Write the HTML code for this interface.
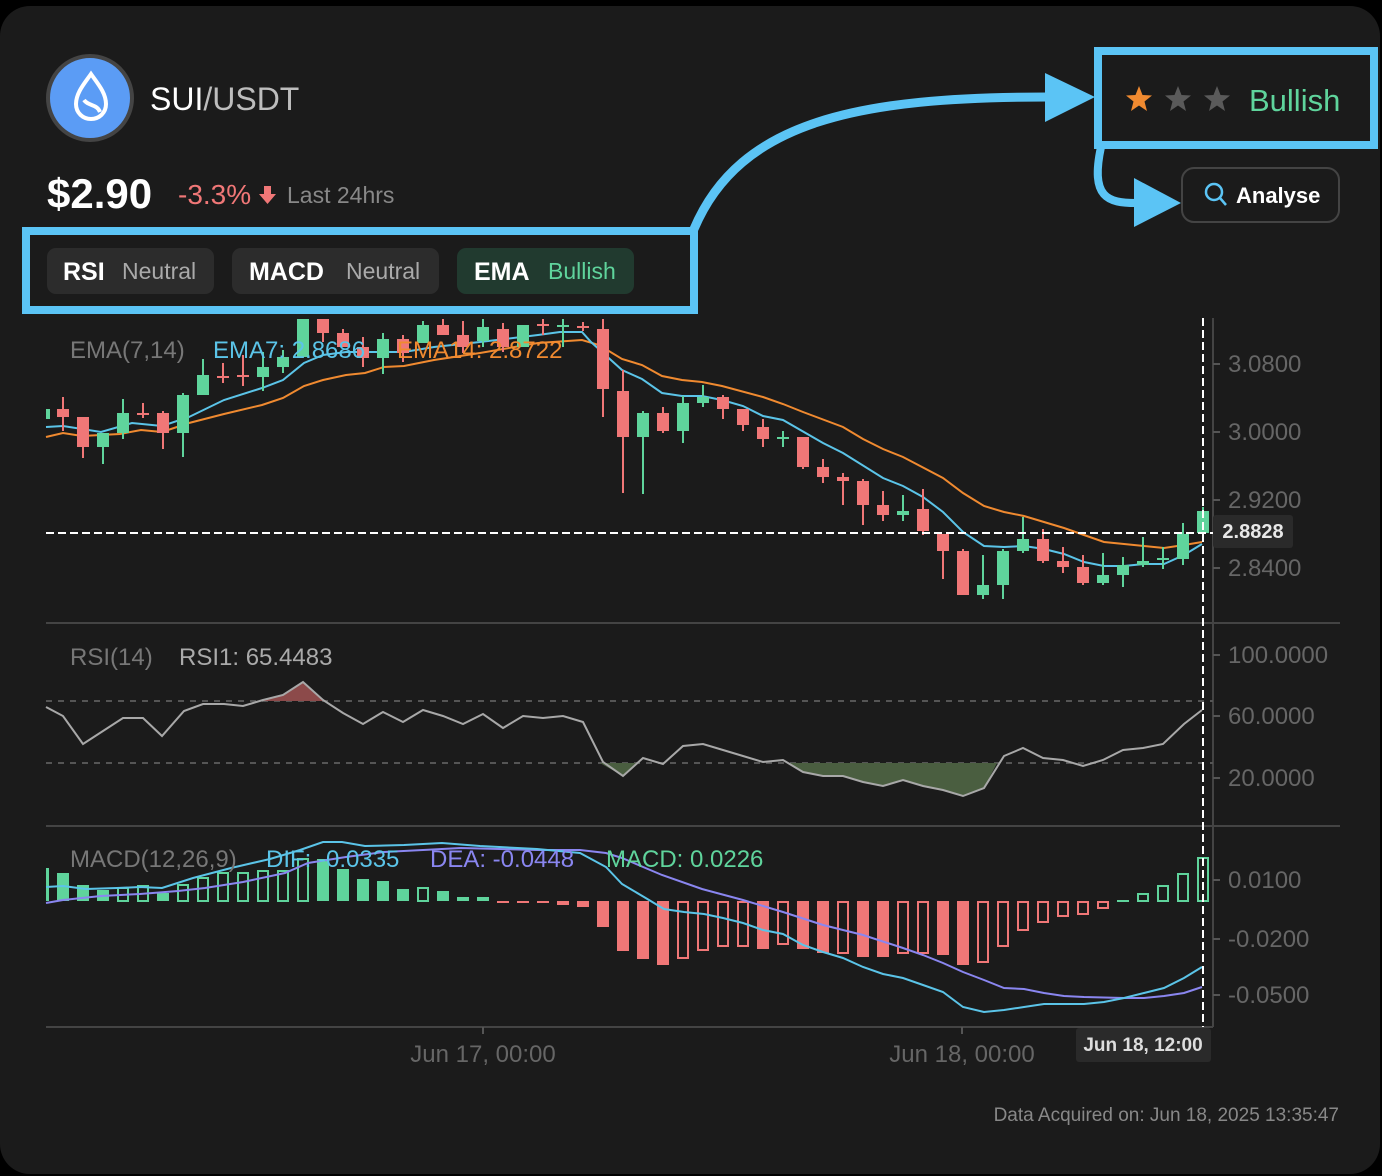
<!DOCTYPE html>
<html><head><meta charset="utf-8"><style>
html,body{margin:0;padding:0;background:#000;width:1382px;height:1176px;overflow:hidden}
svg{display:block}
text{font-family:"Liberation Sans",sans-serif}
</style></head><body>
<svg width="1382" height="1176" viewBox="0 0 1382 1176" xmlns="http://www.w3.org/2000/svg">
<rect x="0" y="6" width="1380" height="1168" rx="30" fill="#1b1b1b"/>

<!-- header -->
<circle cx="90" cy="98" r="42" fill="#5b9cf5" stroke="#444" stroke-width="4"/>
<path d="M91,74 C84,84 76,93 76,104 C76,113 83,119 91,119 C99,119 106,113 106,104 C106,93 98,84 91,74 Z" fill="none" stroke="#fff" stroke-width="4"/>
<path d="M84,100 C88,106 97,104 100,112" fill="none" stroke="#fff" stroke-width="4"/>
<text x="150" y="110" font-size="32" fill="#fff">SUI<tspan fill="#bdbdbd">/USDT</tspan></text>
<text x="47" y="208" font-size="42" font-weight="bold" fill="#fff">$2.90</text>
<text x="178" y="204" font-size="28" fill="#f07777">-3.3%</text>
<path d="M264,186 h7 v8 h5 l-8.5,10 l-8.5,-10 h5 z" fill="#f07777"/>
<text x="287" y="203" font-size="23" fill="#888">Last 24hrs</text>

<rect x="47" y="248" width="167" height="46" rx="9" fill="#2c2c2c"/>
<text x="63" y="280" font-size="25" font-weight="bold" fill="#fff">RSI</text>
<text x="122" y="279" font-size="23" fill="#aaa">Neutral</text>
<rect x="232" y="248" width="207" height="46" rx="9" fill="#2c2c2c"/>
<text x="249" y="280" font-size="25" font-weight="bold" fill="#fff">MACD</text>
<text x="346" y="279" font-size="23" fill="#aaa">Neutral</text>
<rect x="457" y="248" width="177" height="46" rx="9" fill="#213a2f"/>
<text x="474" y="280" font-size="25" font-weight="bold" fill="#fff">EMA</text>
<text x="548" y="279" font-size="23" fill="#5fd49c">Bullish</text>

<!-- annotation boxes & arrows -->
<rect x="26" y="231" width="668" height="79" fill="none" stroke="#5bc4f5" stroke-width="8"/>
<path d="M694,229 C740,120 860,97 1048,97" fill="none" stroke="#5bc4f5" stroke-width="9"/>
<polygon points="1045,73 1045,122 1095,97" fill="#5bc4f5"/>
<rect x="1098" y="51" width="276" height="94" fill="none" stroke="#5bc4f5" stroke-width="8"/>
<path d="M1101,147 C1090,198 1108,203 1136,203" fill="none" stroke="#5bc4f5" stroke-width="8"/>
<polygon points="1134,178 1134,227 1181,203" fill="#5bc4f5"/>
<polygon points="1139,86 1142.5,95 1152,95.5 1144.5,101.5 1147,111 1139,105.5 1131,111 1133.5,101.5 1126,95.5 1135.5,95" fill="#f08a30"/>
<polygon points="1178,86 1181.5,95 1191,95.5 1183.5,101.5 1186,111 1178,105.5 1170,111 1172.5,101.5 1165,95.5 1174.5,95" fill="#5a5a5a"/>
<polygon points="1217,86 1220.5,95 1230,95.5 1222.5,101.5 1225,111 1217,105.5 1209,111 1211.5,101.5 1204,95.5 1213.5,95" fill="#5a5a5a"/>
<text x="1249" y="111" font-size="31" fill="#5fd49c">Bullish</text>
<rect x="1182" y="168" width="157" height="54" rx="12" fill="#1b1b1b" stroke="#444" stroke-width="2"/>
<circle cx="1214" cy="192" r="8" fill="none" stroke="#5bc4f5" stroke-width="2.5"/>
<line x1="1220" y1="198" x2="1226" y2="205" stroke="#5bc4f5" stroke-width="2.5"/>
<text x="1236" y="203" font-size="22" font-weight="bold" fill="#fff">Analyse</text>

<!-- chart frame -->
<line x1="1213" y1="318" x2="1213" y2="1027" stroke="#444" stroke-width="2"/>
<line x1="46" y1="623" x2="1340" y2="623" stroke="#444" stroke-width="2"/>
<line x1="46" y1="826" x2="1340" y2="826" stroke="#444" stroke-width="2"/>
<line x1="46" y1="1027" x2="1213" y2="1027" stroke="#444" stroke-width="2"/>
<g stroke="#555" stroke-width="2">
<line x1="1213" y1="364" x2="1220" y2="364"/><line x1="1213" y1="432" x2="1220" y2="432"/><line x1="1213" y1="500" x2="1220" y2="500"/><line x1="1213" y1="568" x2="1220" y2="568"/>
<line x1="1213" y1="655" x2="1220" y2="655"/><line x1="1213" y1="716" x2="1220" y2="716"/><line x1="1213" y1="778" x2="1220" y2="778"/>
<line x1="1213" y1="880" x2="1220" y2="880"/><line x1="1213" y1="939" x2="1220" y2="939"/><line x1="1213" y1="995" x2="1220" y2="995"/>
<line x1="483" y1="1027" x2="483" y2="1034"/><line x1="962" y1="1027" x2="962" y2="1034"/>
</g>
<g font-size="24" fill="#666">
<text x="1228" y="372">3.0800</text><text x="1228" y="440">3.0000</text><text x="1228" y="508">2.9200</text><text x="1228" y="576">2.8400</text>
<text x="1228" y="663">100.0000</text><text x="1228" y="724">60.0000</text><text x="1228" y="786">20.0000</text>
<text x="1228" y="888">0.0100</text><text x="1228" y="947">-0.0200</text><text x="1228" y="1003">-0.0500</text>
<text x="483" y="1062" text-anchor="middle">Jun 17, 00:00</text><text x="962" y="1062" text-anchor="middle">Jun 18, 00:00</text>
</g>

<!-- EMA lines -->
<polyline fill="none" stroke="#f08a30" stroke-width="2" points="46,437 63,433 82,436 120,434 141,430 162,432 189,423 224,414 262,405 283,398 304,386 323,380 346,375 365,373 384,367 404,366 434,360 480,353 538,343 582,340 599,345 622,359 642,365 662,376 682,380 702,382 722,386 763,397 783,404 803,412 843,427 863,439 883,449 903,457 943,478 963,493 984,506 1004,512 1024,516 1044,522 1064,528 1084,535 1104,542 1124,544 1144,546 1164,548 1184,545 1202,542"/>
<polyline fill="none" stroke="#5bc4e8" stroke-width="2" points="46,427 63,426 101,432 132,423 162,426 189,417 224,400 262,388 283,380 304,363 323,355 346,352 377,352 404,352 434,347 480,342 538,335 560,332 582,332 591,342 622,370 642,379 662,393 682,396 702,396 722,400 743,406 763,416 783,420 823,443 843,453 883,478 903,486 923,497 943,512 963,532 984,546 1004,547 1024,546 1044,549 1064,554 1084,562 1104,566 1124,566 1144,564 1164,564 1184,555 1202,544"/>

<!-- candles -->
<g stroke-width="2">
<g fill="#5fd49c" stroke="#5fd49c">
<rect x="46" y="409" width="4" height="10" stroke="none"/>
<line x1="103" y1="433" x2="103" y2="464"/><rect x="97" y="433" width="12" height="14" stroke="none"/>
<line x1="123" y1="399" x2="123" y2="439"/><rect x="117" y="413" width="12" height="20" stroke="none"/>
<line x1="183" y1="393" x2="183" y2="457"/><rect x="177" y="395" width="12" height="38" stroke="none"/>
<line x1="203" y1="359" x2="203" y2="395"/><rect x="197" y="375" width="12" height="20" stroke="none"/>
<line x1="263" y1="352" x2="263" y2="391"/><rect x="257" y="367" width="12" height="10" stroke="none"/>
<line x1="283" y1="350" x2="283" y2="373"/><rect x="277" y="357" width="12" height="10" stroke="none"/>
<rect x="297" y="319" width="12" height="38" stroke="none"/>
<line x1="383" y1="333" x2="383" y2="374"/><rect x="377" y="339" width="12" height="19" stroke="none"/>
<line x1="423" y1="321" x2="423" y2="343"/><rect x="417" y="325" width="12" height="18" stroke="none"/>
<line x1="483" y1="319" x2="483" y2="347"/><rect x="477" y="327" width="12" height="14" stroke="none"/>
<rect x="517" y="325" width="12" height="22" stroke="none"/>
<line x1="563" y1="319" x2="563" y2="347"/><rect x="557" y="325" width="12" height="2" stroke="none"/>
<line x1="643" y1="411" x2="643" y2="494"/><rect x="637" y="413" width="12" height="24" stroke="none"/>
<line x1="683" y1="396" x2="683" y2="443"/><rect x="677" y="403" width="12" height="28" stroke="none"/>
<line x1="703" y1="385" x2="703" y2="407"/><rect x="697" y="397" width="12" height="6" stroke="none"/>
<line x1="783" y1="431" x2="783" y2="447"/><rect x="777" y="437" width="12" height="2" stroke="none"/>
<line x1="903" y1="495" x2="903" y2="521"/><rect x="897" y="511" width="12" height="4" stroke="none"/>
<line x1="983" y1="555" x2="983" y2="599"/><rect x="977" y="585" width="12" height="10" stroke="none"/>
<line x1="1003" y1="549" x2="1003" y2="599"/><rect x="997" y="551" width="12" height="34" stroke="none"/>
<line x1="1023" y1="517" x2="1023" y2="553"/><rect x="1017" y="539" width="12" height="12" stroke="none"/>
<line x1="1103" y1="553" x2="1103" y2="585"/><rect x="1097" y="575" width="12" height="8" stroke="none"/>
<line x1="1123" y1="557" x2="1123" y2="587"/><rect x="1117" y="565" width="12" height="10" stroke="none"/>
<line x1="1143" y1="537" x2="1143" y2="567"/><rect x="1137" y="561" width="12" height="4" stroke="none"/>
<line x1="1163" y1="547" x2="1163" y2="569"/><rect x="1157" y="558" width="12" height="2" stroke="none"/>
<line x1="1183" y1="523" x2="1183" y2="565"/><rect x="1177" y="534" width="12" height="25" stroke="none"/>
<line x1="1203" y1="507" x2="1203" y2="533"/><rect x="1197" y="511" width="12" height="22" stroke="none"/>
</g>
<g fill="#f07777" stroke="#f07777">
<line x1="63" y1="397" x2="63" y2="431"/><rect x="57" y="409" width="12" height="8" stroke="none"/>
<line x1="83" y1="417" x2="83" y2="458"/><rect x="77" y="417" width="12" height="30" stroke="none"/>
<line x1="143" y1="403" x2="143" y2="418"/><rect x="137" y="413" width="12" height="2" stroke="none"/>
<line x1="163" y1="411" x2="163" y2="449"/><rect x="157" y="413" width="12" height="20" stroke="none"/>
<line x1="223" y1="363" x2="223" y2="383"/><rect x="217" y="376" width="12" height="2" stroke="none"/>
<line x1="243" y1="355" x2="243" y2="386"/><rect x="237" y="375" width="12" height="2" stroke="none"/>
<line x1="323" y1="319" x2="323" y2="342"/><rect x="317" y="319" width="12" height="14" stroke="none"/>
<line x1="343" y1="329" x2="343" y2="347"/><rect x="337" y="333" width="12" height="14" stroke="none"/>
<line x1="363" y1="337" x2="363" y2="367"/><rect x="357" y="347" width="12" height="11" stroke="none"/>
<line x1="403" y1="335" x2="403" y2="362"/><rect x="397" y="339" width="12" height="14" stroke="none"/>
<line x1="443" y1="319" x2="443" y2="335"/><rect x="437" y="325" width="12" height="10" stroke="none"/>
<line x1="463" y1="321" x2="463" y2="353"/><rect x="457" y="335" width="12" height="12" stroke="none"/>
<line x1="503" y1="323" x2="503" y2="352"/><rect x="497" y="329" width="12" height="18" stroke="none"/>
<line x1="543" y1="319" x2="543" y2="335"/><rect x="537" y="324" width="12" height="2" stroke="none"/>
<line x1="583" y1="322" x2="583" y2="331"/><rect x="577" y="326" width="12" height="2" stroke="none"/>
<line x1="603" y1="319" x2="603" y2="417"/><rect x="597" y="329" width="12" height="60" stroke="none"/>
<line x1="623" y1="370" x2="623" y2="493"/><rect x="617" y="391" width="12" height="46" stroke="none"/>
<line x1="663" y1="407" x2="663" y2="433"/><rect x="657" y="413" width="12" height="18" stroke="none"/>
<line x1="723" y1="395" x2="723" y2="419"/><rect x="717" y="397" width="12" height="12" stroke="none"/>
<line x1="743" y1="409" x2="743" y2="431"/><rect x="737" y="409" width="12" height="16" stroke="none"/>
<line x1="763" y1="419" x2="763" y2="447"/><rect x="757" y="427" width="12" height="12" stroke="none"/>
<line x1="803" y1="437" x2="803" y2="469"/><rect x="797" y="437" width="12" height="30" stroke="none"/>
<line x1="823" y1="459" x2="823" y2="483"/><rect x="817" y="467" width="12" height="10" stroke="none"/>
<line x1="843" y1="473" x2="843" y2="505"/><rect x="837" y="477" width="12" height="4" stroke="none"/>
<line x1="863" y1="479" x2="863" y2="525"/><rect x="857" y="481" width="12" height="24" stroke="none"/>
<line x1="883" y1="491" x2="883" y2="521"/><rect x="877" y="505" width="12" height="10" stroke="none"/>
<line x1="923" y1="489" x2="923" y2="535"/><rect x="917" y="509" width="12" height="22" stroke="none"/>
<line x1="943" y1="534" x2="943" y2="579"/><rect x="937" y="534" width="12" height="17" stroke="none"/>
<line x1="963" y1="549" x2="963" y2="595"/><rect x="957" y="551" width="12" height="44" stroke="none"/>
<line x1="1043" y1="529" x2="1043" y2="563"/><rect x="1037" y="539" width="12" height="22" stroke="none"/>
<line x1="1063" y1="547" x2="1063" y2="573"/><rect x="1057" y="561" width="12" height="6" stroke="none"/>
<line x1="1083" y1="555" x2="1083" y2="585"/><rect x="1077" y="567" width="12" height="16" stroke="none"/>
</g>
</g>

<!-- labels over chart -->
<text x="70" y="358" font-size="24" fill="#777">EMA(7,14)</text>
<text x="213" y="358" font-size="24" fill="#5bc4e8">EMA7: 2.8686</text>
<text x="397" y="358" font-size="24" fill="#f08a30">EMA14: 2.8722</text>

<!-- RSI -->
<line x1="46" y1="701" x2="1213" y2="701" stroke="#555" stroke-width="2" stroke-dasharray="6 6"/>
<line x1="46" y1="763" x2="1213" y2="763" stroke="#555" stroke-width="2" stroke-dasharray="6 6"/>
<polygon points="258,701 263,700 283,695 303,682 323,700 324,701" fill="#8c4a4a"/>
<polygon points="600,763 623,776 637,763" fill="#4a5e40"/>
<polygon points="790,763 803,772 823,776 843,776 863,782 883,786 903,780 923,786 943,790 963,796 984,788 997,763" fill="#4a5e40"/>
<polyline fill="none" stroke="#a8a8a8" stroke-width="2" points="46,707 63,716 83,744 103,731 123,718 143,718 162,736 184,711 203,704 224,704 243,706 263,700 283,695 303,682 323,700 343,713 363,724 383,712 403,722 423,710 443,716 463,724 483,714 503,728 523,716 543,718 563,716 583,722 603,762 623,776 643,758 663,764 683,746 703,744 723,750 743,756 763,762 783,760 803,772 823,776 843,776 863,782 883,786 903,780 923,786 943,790 963,796 984,788 1004,756 1023,748 1043,758 1063,760 1083,766 1103,760 1123,750 1143,748 1163,744 1184,724 1202,710"/>
<text x="70" y="665" font-size="24" fill="#777">RSI(14)</text>
<text x="179" y="665" font-size="24" fill="#aaa">RSI1: 65.4483</text>

<!-- MACD histogram -->
<g fill="#5fd49c">
<rect x="46" y="868" width="3" height="33"/>
<rect x="57" y="873" width="12" height="28"/><rect x="77" y="885" width="12" height="16"/><rect x="97" y="890" width="12" height="11"/>
<rect x="157" y="893" width="12" height="8"/><rect x="317" y="859" width="12" height="42"/><rect x="337" y="869" width="12" height="32"/>
<rect x="357" y="879" width="12" height="22"/><rect x="377" y="881" width="12" height="20"/><rect x="397" y="889" width="12" height="12"/>
<rect x="437" y="891" width="12" height="10"/><rect x="457" y="897" width="12" height="4"/><rect x="477" y="897" width="12" height="4"/>
<rect x="1117" y="900" width="12" height="2"/>
</g>
<g fill="none" stroke="#5fd49c" stroke-width="2">
<rect x="118" y="888" width="10" height="13"/><rect x="138" y="886" width="10" height="15"/><rect x="178" y="885" width="10" height="16"/>
<rect x="198" y="878" width="10" height="23"/><rect x="218" y="873" width="10" height="28"/><rect x="238" y="873" width="10" height="28"/>
<rect x="258" y="871" width="10" height="30"/><rect x="278" y="871" width="10" height="30"/><rect x="298" y="859" width="10" height="42"/>
<rect x="418" y="888" width="10" height="13"/>
<rect x="1138" y="894" width="10" height="7"/><rect x="1158" y="886" width="10" height="15"/><rect x="1178" y="874" width="10" height="27"/><rect x="1198" y="858" width="10" height="43"/>
</g>
<g fill="#f07777">
<rect x="497" y="901" width="12" height="2"/><rect x="517" y="901" width="12" height="2"/><rect x="537" y="901" width="12" height="2"/>
<rect x="557" y="901" width="12" height="4"/><rect x="577" y="901" width="12" height="6"/><rect x="597" y="901" width="12" height="26"/>
<rect x="617" y="901" width="12" height="50"/><rect x="637" y="901" width="12" height="58"/><rect x="657" y="901" width="12" height="64"/>
<rect x="757" y="901" width="12" height="48"/><rect x="797" y="901" width="12" height="48"/><rect x="817" y="901" width="12" height="52"/>
<rect x="857" y="901" width="12" height="56"/><rect x="877" y="901" width="12" height="56"/><rect x="937" y="901" width="12" height="54"/>
<rect x="957" y="901" width="12" height="64"/>
</g>
<g fill="none" stroke="#f07777" stroke-width="2">
<rect x="678" y="902" width="10" height="56"/><rect x="698" y="902" width="10" height="48"/><rect x="718" y="902" width="10" height="44"/>
<rect x="738" y="902" width="10" height="44"/><rect x="778" y="902" width="10" height="42"/><rect x="838" y="902" width="10" height="51"/>
<rect x="898" y="902" width="10" height="51"/><rect x="918" y="902" width="10" height="51"/><rect x="978" y="902" width="10" height="60"/>
<rect x="998" y="902" width="10" height="44"/><rect x="1018" y="902" width="10" height="28"/><rect x="1038" y="902" width="10" height="20"/>
<rect x="1058" y="902" width="10" height="14"/><rect x="1078" y="902" width="10" height="12"/><rect x="1098" y="902" width="10" height="6"/>
</g>
<polyline fill="none" stroke="#8a86f0" stroke-width="2" points="46,903 63,900 101,896 140,894 178,891 205,888 243,882 285,873 308,863 346,857 384,852 423,850 461,848 499,849 537,850 580,850 606,853 622,858 662,875 702,889 743,900 783,912 823,925 863,935 903,948 923,955 943,963 963,972 984,980 1004,988 1024,989 1044,993 1064,996 1084,997 1124,998 1144,998 1164,996 1184,993 1202,987"/>
<polyline fill="none" stroke="#5bc4e8" stroke-width="2" points="46,887 63,886 86,889 117,888 140,887 162,888 193,878 231,868 270,859 300,850 323,842 342,842 365,846 404,845 442,843 480,846 537,849 580,853 606,867 622,884 644,897 664,909 684,912 704,914 723,918 743,923 763,930 783,934 803,945 823,952 843,958 863,967 883,974 903,978 923,985 943,992 963,1007 984,1012 1004,1010 1024,1007 1044,1004 1064,1004 1084,1004 1104,1002 1124,998 1144,993 1164,988 1184,978 1202,967"/>
<text x="70" y="867" font-size="24" fill="#777">MACD(12,26,9)</text>
<text x="266" y="867" font-size="24" fill="#5bc4e8">DIF: -0.0335</text>
<text x="430" y="867" font-size="24" fill="#8a86f0">DEA: -0.0448</text>
<text x="606" y="867" font-size="24" fill="#5fd49c">MACD: 0.0226</text>

<!-- crosshair -->
<line x1="46" y1="533" x2="1213" y2="533" stroke="#fff" stroke-width="2" stroke-dasharray="8 4"/>
<line x1="1203" y1="318" x2="1203" y2="1027" stroke="#fff" stroke-width="2" stroke-dasharray="8 4"/>
<rect x="1213" y="515" width="80" height="33" rx="3" fill="#2a2a2a"/>
<text x="1253" y="538" font-size="20" font-weight="bold" fill="#e8e8e8" text-anchor="middle">2.8828</text>
<rect x="1076" y="1028" width="135" height="34" rx="3" fill="#2a2a2a"/>
<text x="1143" y="1051" font-size="19" font-weight="bold" fill="#ddd" text-anchor="middle">Jun 18, 12:00</text>

<text x="1339" y="1121" font-size="19" fill="#888" text-anchor="end">Data Acquired on: Jun 18, 2025 13:35:47</text>
</svg>
</body></html>
